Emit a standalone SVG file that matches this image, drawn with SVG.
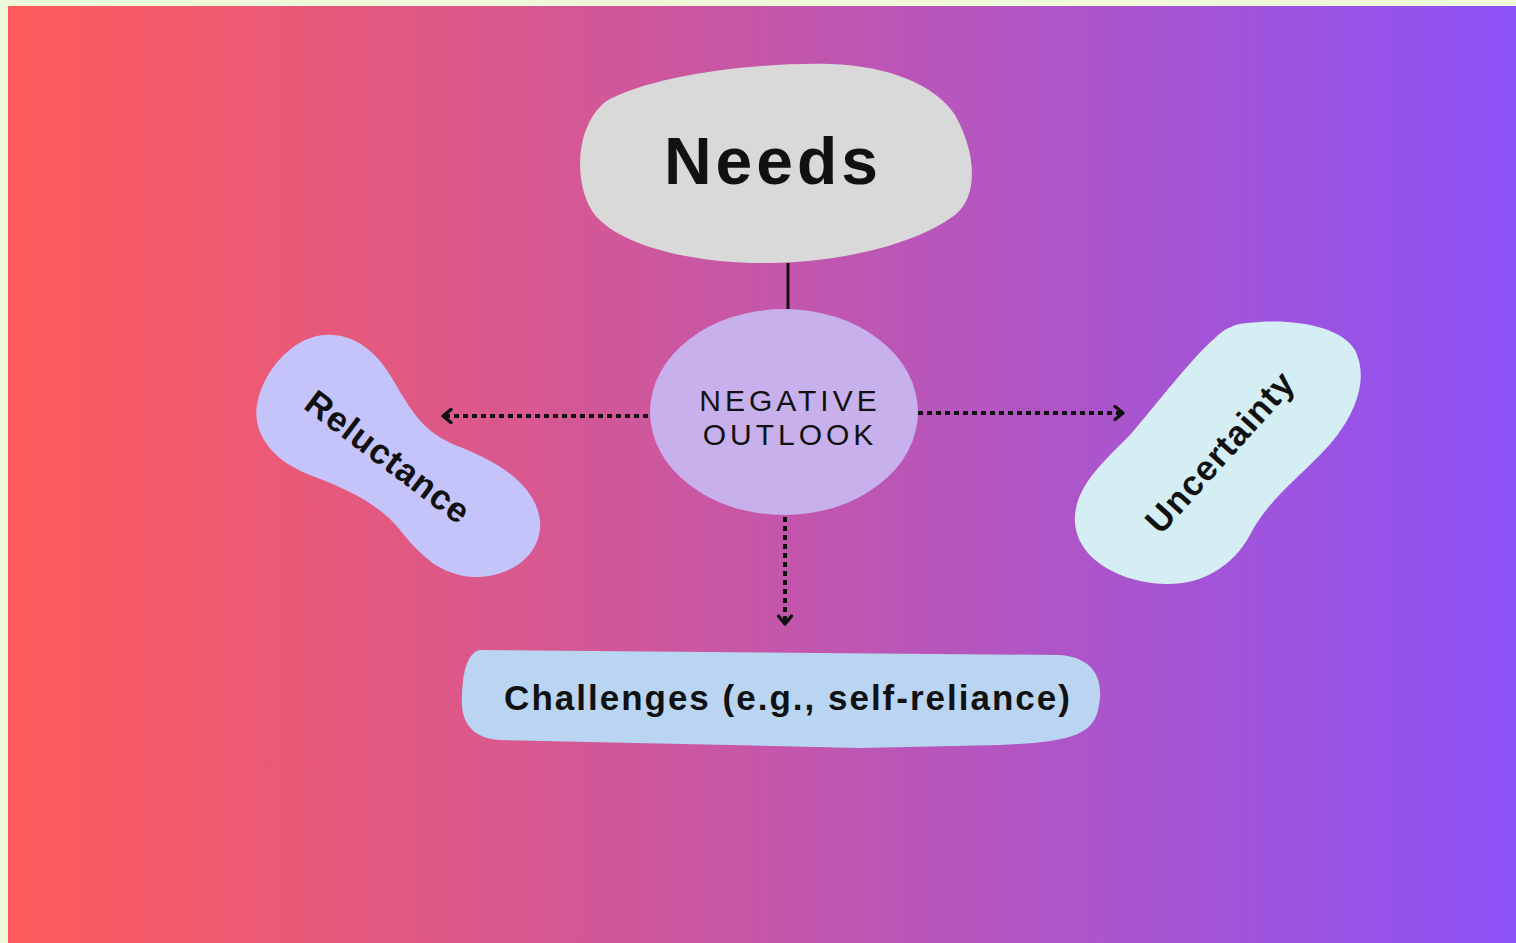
<svg xmlns="http://www.w3.org/2000/svg" width="1516" height="943" viewBox="0 0 1516 943">
<defs>
<linearGradient id="bg" x1="0" y1="0" x2="1" y2="0">
<stop offset="0" stop-color="#FF5B5A"/>
<stop offset="1" stop-color="#8C52F7"/>
</linearGradient>
<marker id="chev" viewBox="0 0 18 18" refX="13" refY="9" markerWidth="18" markerHeight="18" markerUnits="userSpaceOnUse" orient="auto">
<path d="M5,2.5 L13,9 L5,15.5" fill="none" stroke="#111" stroke-width="3.5" stroke-linecap="round" stroke-linejoin="round"/>
</marker>
<style>
.lbl{font-family:"Liberation Sans","DejaVu Sans",sans-serif;fill:#111;}
.dot{stroke:#111;stroke-width:4;stroke-dasharray:5 4;fill:none;}
</style>
</defs>
<rect x="0" y="0" width="1516" height="943" fill="#EFF9D9"/>
<rect x="8" y="6" width="1508" height="937" fill="url(#bg)"/>

<g id="connectors">
<line x1="788" y1="263" x2="788" y2="309" stroke="#111" stroke-width="3"/>
<line class="dot" x1="648" y1="416" x2="443" y2="416" marker-end="url(#chev)"/>
<line class="dot" x1="918" y1="413" x2="1123" y2="413" marker-end="url(#chev)"/>
<line class="dot" x1="785" y1="517" x2="785" y2="624" marker-end="url(#chev)"/>
</g>

<g id="needs">
<path d="M 605,102 C 650,75 760,62 830,64 C 890,66 935,85 955,115 C 975,150 980,195 955,215 C 915,245 840,262 770,263 C 690,264 620,245 595,215 C 575,190 572,130 605,102 Z" fill="#D9D9D9"/>
<text class="lbl" x="773" y="184" text-anchor="middle" font-size="66" font-weight="bold" letter-spacing="4">Needs</text>
</g>

<g id="negative-outlook">
<ellipse cx="784" cy="412" rx="134" ry="103" fill="#C8B0EC"/>
<text class="lbl" x="790" y="411" text-anchor="middle" font-size="30" letter-spacing="4">NEGATIVE</text>
<text class="lbl" x="790" y="445" text-anchor="middle" font-size="30" letter-spacing="4">OUTLOOK</text>
</g>

<g id="reluctance">
<path d="M 317,336 C 345,330 372,345 390,375 C 410,408 420,430 455,445 C 500,462 535,485 540,520 C 543,555 510,578 473,577 C 440,575 420,555 400,530 C 380,505 350,490 310,475 C 270,460 250,430 258,400 C 265,370 290,342 317,336 Z" fill="#C4C4FA"/>
<text class="lbl" x="0" y="0" transform="translate(388,457) rotate(37)" text-anchor="middle" dy="12" font-size="35" font-weight="bold" letter-spacing="1">Reluctance</text>
</g>

<g id="uncertainty">
<path d="M 1247,323 C 1290,318 1340,325 1355,350 C 1370,380 1355,420 1320,455 C 1290,485 1265,505 1250,535 C 1232,568 1200,585 1165,584 C 1115,582 1072,555 1075,515 C 1078,485 1100,465 1130,435 C 1160,400 1190,360 1215,338 C 1225,328 1235,324 1247,323 Z" fill="#D5EEF4"/>
<text class="lbl" x="0" y="0" transform="translate(1220,452) rotate(-48)" text-anchor="middle" dy="12" font-size="35" font-weight="600" letter-spacing="1">Uncertainty</text>
</g>

<g id="challenges">
<path d="M 480,650 L 1060,655 C 1095,658 1105,680 1098,710 C 1092,735 1070,742 1000,745 L 860,748 L 500,740 C 470,738 460,720 462,695 C 463,665 470,652 480,650 Z" fill="#B9D5F1"/>
<text class="lbl" x="788" y="710" text-anchor="middle" font-size="35" font-weight="bold" letter-spacing="2">Challenges (e.g., self-reliance)</text>
</g>
</svg>
